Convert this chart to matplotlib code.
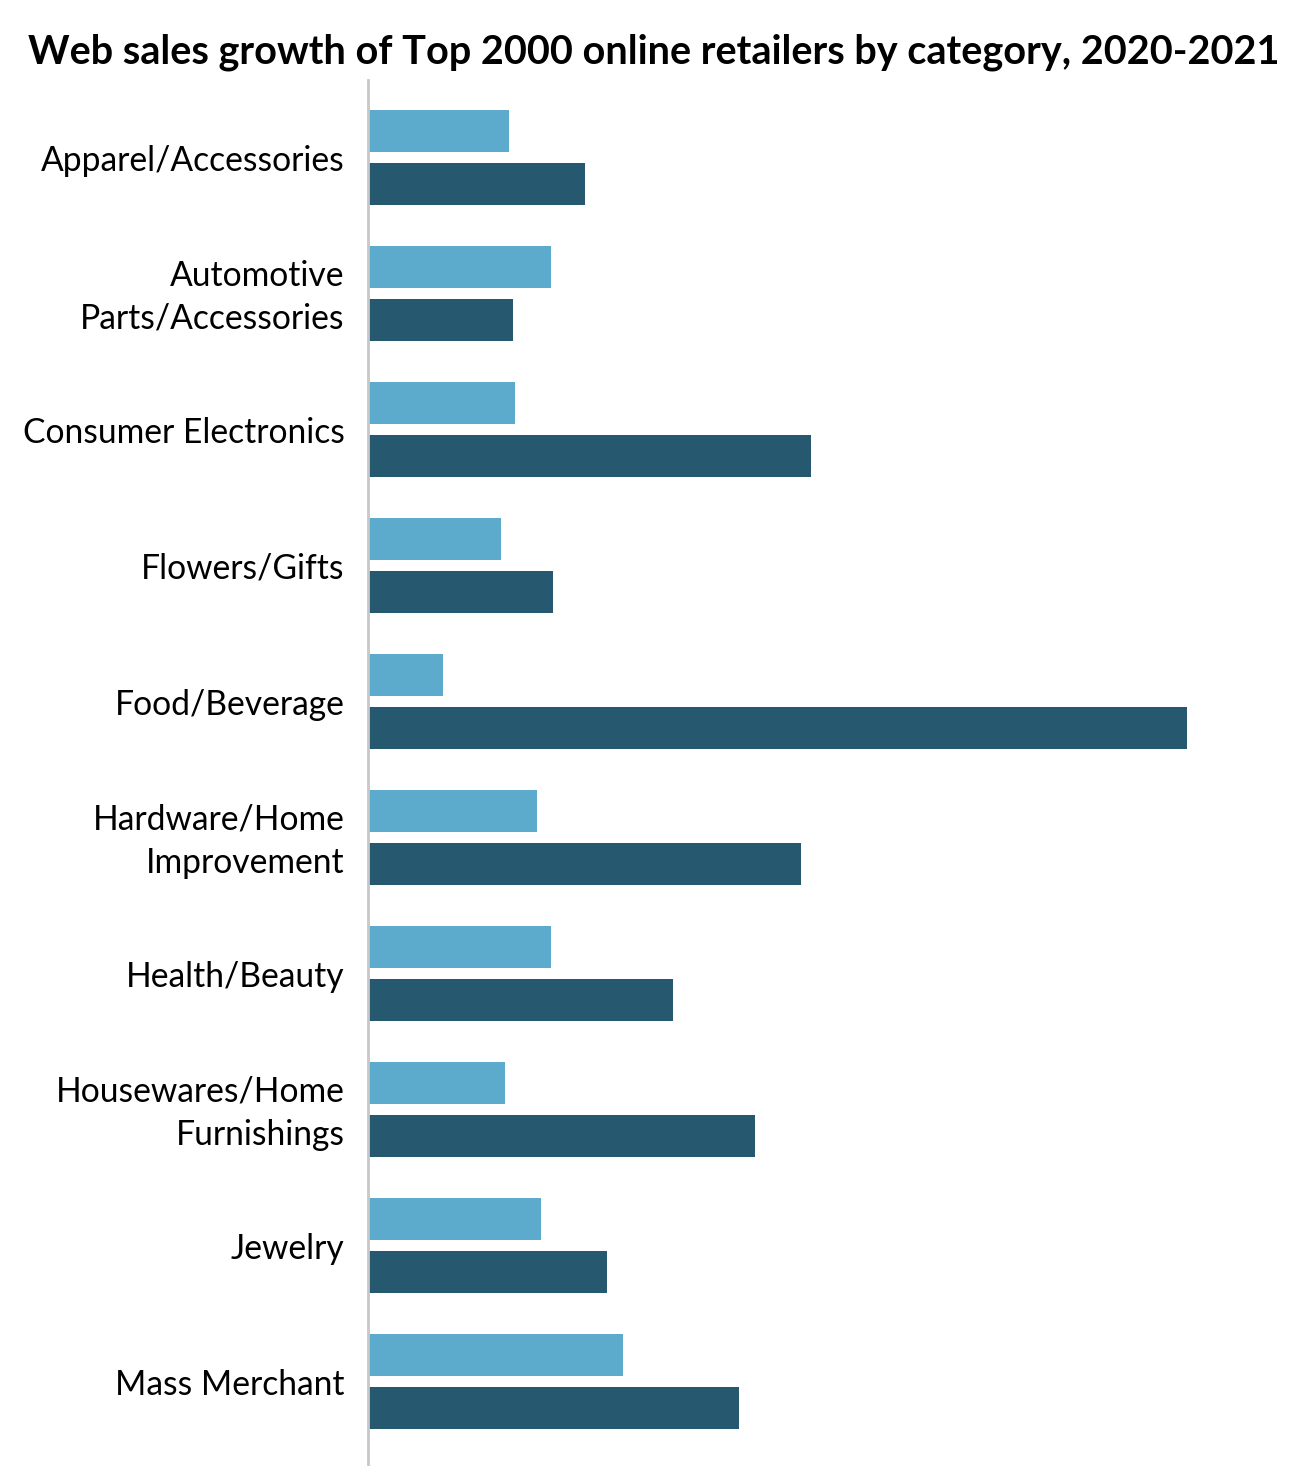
import numpy as np
import matplotlib.pyplot as plt
import matplotlib.transforms as mtransforms

categories = ['Apparel/Accessories', 'Automotive\nParts/Accessories', 'Consumer Electronics',
              'Flowers/Gifts', 'Food/Beverage', 'Hardware/Home\nImprovement', 'Health/Beauty',
              'Housewares/Home\nFurnishings', 'Jewelry', 'Mass Merchant']
growth_2021 = [14.0, 18.2, 14.6, 13.2, 7.4, 16.8, 18.2, 13.6, 17.2, 25.4]
growth_2020 = [21.6, 14.4, 44.2, 18.4, 81.8, 43.2, 30.4, 38.6, 23.8, 37.0]

plt.rcParams['font.family'] = ['Lato', 'DejaVu Sans']

fig = plt.figure(figsize=(12.94, 14.66), dpi=100)
ax = fig.add_axes([368 / 1294, 0, 925 / 1294, 1 - 80 / 1466])

y = np.arange(len(categories))
ax.barh(y - 0.195, growth_2021, height=0.31, color='#5cabcd')
ax.barh(y + 0.195, growth_2020, height=0.31, color='#26596f')

ax.set_xlim(-0.1, 92.4)
ax.set_ylim(9.62, -0.57)
ax.set_yticks(y)
ax.set_yticklabels(categories, fontsize=24.2, linespacing=1.42)
ax.tick_params(axis='y', length=0, pad=17)
ax.set_xticks([])
for s in ['top', 'right', 'bottom']:
    ax.spines[s].set_visible(False)
ax.spines['left'].set_color('#c8c8c8')
ax.spines['left'].set_linewidth(2)

# two-line labels sit a little higher in the original
shift = mtransforms.ScaledTranslation(0, 5 / 100, fig.dpi_scale_trans)
for lbl in ax.get_yticklabels():
    if '\n' in lbl.get_text():
        lbl.set_transform(lbl.get_transform() + shift)

fig.text(0.505, 1 - 52 / 1466, 'Web sales growth of Top 2000 online retailers by category, 2020-2021',
         ha='center', va='center', fontsize=28.5, fontweight='bold')

fig.savefig('out.png', dpi=100)
